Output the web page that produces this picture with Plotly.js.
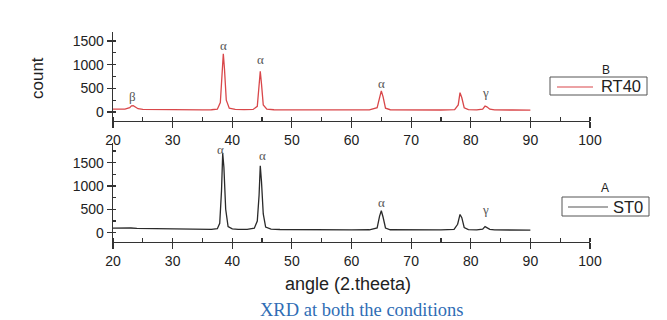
<!DOCTYPE html>
<html>
<head>
<meta charset="utf-8">
<script src="https://cdn.plot.ly/plotly-3.0.1.min.js"></script>
<style>html,body{margin:0;padding:0;background:#fff;}#chart{width:667px;height:320px;}</style>
</head>
<body>
<div id="chart"></div>
<script>
// RT40 (top panel, B)
var rtAngle = [20, 21, 22, 22.8, 23.1, 23.4, 23.7, 24.2, 25, 27, 30, 33, 35, 36.5, 37.5, 38.0, 38.3, 38.5, 38.7, 39.0, 39.5, 40.5, 42, 43.5, 44.2, 44.5, 44.7, 44.9, 45.2, 45.8, 47, 50, 55, 60, 63, 64.3, 64.7, 65.0, 65.3, 65.7, 66.5, 70, 75, 77.3, 77.9, 78.2, 78.5, 78.9, 79.6, 81, 82.0, 82.4, 82.7, 83.2, 84, 87, 90];
var rtCount = [60, 58, 62, 90, 130, 135, 110, 70, 55, 50, 45, 44, 45, 48, 60, 200, 800, 1230, 900, 250, 80, 55, 50, 55, 120, 500, 860, 600, 150, 60, 48, 45, 43, 42, 45, 90, 330, 445, 320, 80, 48, 42, 42, 50, 150, 410, 300, 90, 50, 45, 60, 125, 110, 60, 45, 42, 40];
// ST0 (bottom panel, A)
var stAngle = [20, 21, 22, 23, 24, 25, 27, 29, 31, 33, 35, 36.5, 37.5, 37.9, 38.2, 38.4, 38.6, 38.9, 39.3, 40, 41, 42.5, 43.7, 44.2, 44.5, 44.7, 44.9, 45.2, 45.6, 46.5, 48, 50, 55, 60, 63, 64.3, 64.7, 65.0, 65.3, 65.7, 66.5, 70, 75, 77.2, 77.8, 78.2, 78.5, 78.9, 79.6, 81, 82.0, 82.4, 82.7, 83.2, 84, 87, 90];
var stCount = [95, 100, 95, 100, 90, 88, 80, 75, 72, 70, 68, 70, 85, 200, 900, 1700, 1400, 500, 130, 80, 70, 72, 95, 250, 800, 1430, 1100, 400, 120, 75, 68, 65, 62, 60, 62, 100, 350, 470, 330, 100, 62, 58, 58, 70, 180, 390, 320, 110, 65, 58, 75, 130, 110, 70, 58, 55, 55];

// peak labels
var rtPeakX = [23.3, 38.5, 44.7, 65.0, 82.5];
var rtPeakY = [337, 1410, 1116, 610, 420];
var rtPeakText = ["β", "α", "α", "α", "γ"];
var stPeakX = [38.0, 45.1, 65.0, 82.5];
var stPeakY = [1780, 1642, 636, 486];
var stPeakText = ["α", "α", "α", "γ"];

var seriesNames = ["RT40", "ST0"];
var panelLetters = ["B", "A"];
var seriesColors = ["#d9474a", "#2a2a2a"];

var xTicks = [20, 30, 40, 50, 60, 70, 80, 90, 100];
var yTicks = [0, 500, 1000, 1500];

var W = 667, H = 320;
var sans = "Liberation Sans, Arial, sans-serif";
var serif = "Liberation Serif, Times New Roman, serif";
var tickFont = {family: sans, size: 14, color: "#222"};

function xax(anchor) {
  return {
    anchor: anchor, domain: [113/W, 590/W], range: [20, 100], automargin: false,
    tickvals: xTicks, ticks: "outside", ticklen: 6, tickwidth: 1.2, tickcolor: "#333",
    minor: {dtick: 5, tick0: 0, ticks: "inside", ticklen: 4, tickcolor: "#333", showgrid: false},
    showline: true, linecolor: "#333", linewidth: 1.3, showgrid: false, zeroline: false,
    tickfont: tickFont, fixedrange: true
  };
}
function yax(anchor, dom, rng) {
  return {
    anchor: anchor, domain: dom, range: rng, automargin: false,
    tickvals: yTicks, ticks: "outside", ticklen: 5, tickwidth: 1.2, tickcolor: "#333",
    minor: {dtick: 250, tick0: 0, ticks: "inside", ticklen: 3, tickcolor: "#333", showgrid: false},
    showline: true, linecolor: "#333", linewidth: 1.3, showgrid: false, zeroline: false,
    tickfont: tickFont, fixedrange: true
  };
}

var traces = [
  {x: rtAngle, y: rtCount, xaxis: "x", yaxis: "y", type: "scatter", mode: "lines",
   name: seriesNames[0], line: {color: seriesColors[0], width: 1.3}},
  {x: stAngle, y: stCount, xaxis: "x2", yaxis: "y2", type: "scatter", mode: "lines",
   name: seriesNames[1], line: {color: seriesColors[1], width: 1.3}}
];

var peakFont = {family: serif, size: 13, color: "#555"};
var annotations = [];
rtPeakX.forEach(function (px, i) {
  annotations.push({x: px, y: rtPeakY[i], xref: "x", yref: "y", text: rtPeakText[i], showarrow: false,
    xanchor: "center", yanchor: "middle", font: peakFont});
});
stPeakX.forEach(function (px, i) {
  annotations.push({x: px, y: stPeakY[i], xref: "x2", yref: "y2", text: stPeakText[i], showarrow: false,
    xanchor: "center", yanchor: "middle", font: peakFont});
});
function paperText(px, py, text, font, extra) {
  var a = {x: px / W, y: 1 - py / H, xref: "paper", yref: "paper", text: text, showarrow: false,
    xanchor: "center", yanchor: "middle", font: font};
  if (extra) for (var k in extra) a[k] = extra[k];
  return a;
}
annotations.push(
  paperText(37, 78, "count", {family: sans, size: 17, color: "#222"}, {textangle: -90}),
  paperText(348, 284, "angle (2.theeta)", {family: sans, size: 18, color: "#222"}),
  paperText(361, 310, "XRD at both the conditions", {family: serif, size: 18.5, color: "#2f6db5"}),
  paperText(606, 70, panelLetters[0], {family: sans, size: 12, color: "#222"}),
  paperText(605, 188, panelLetters[1], {family: sans, size: 12, color: "#222"}),
  paperText(599, 86.5, seriesNames[0], {family: sans, size: 16.5, color: "#222"}, {xanchor: "left"}),
  paperText(611, 207, seriesNames[1], {family: sans, size: 16.5, color: "#222"}, {xanchor: "left"})
);

// legend boxes (drawn in paper space)
function box(x0, y0, x1, y1) {
  return {type: "rect", xref: "paper", yref: "paper", x0: x0 / W, x1: x1 / W, y0: 1 - y0 / H, y1: 1 - y1 / H,
    line: {color: "#555", width: 1}, fillcolor: "rgba(0,0,0,0)"};
}
function seg(x0, x1, y, color) {
  return {type: "line", xref: "paper", yref: "paper", x0: x0 / W, x1: x1 / W, y0: 1 - y / H, y1: 1 - y / H,
    line: {color: color, width: 1.2}};
}
var shapes = [
  box(550, 77, 647, 95), seg(557, 593, 87, seriesColors[0]),
  box(562, 197, 649, 216), seg(568, 608, 207, "#555")
];

var layout = {
  width: W, height: H,
  margin: {l: 0, r: 0, t: 0, b: 0, pad: 0},
  paper_bgcolor: "#ffffff", plot_bgcolor: "#ffffff",
  showlegend: false,
  xaxis: xax("y"),
  yaxis: yax("x", [1 - 121/H, 1 - 32/H], [-190, 1690]),
  xaxis2: xax("y2"),
  yaxis2: yax("x2", [1 - 242/H, 1 - 143/H], [-200, 1920]),
  annotations: annotations,
  shapes: shapes
};

Plotly.newPlot("chart", traces, layout, {displayModeBar: false, staticPlot: true});
</script>
</body>
</html>
